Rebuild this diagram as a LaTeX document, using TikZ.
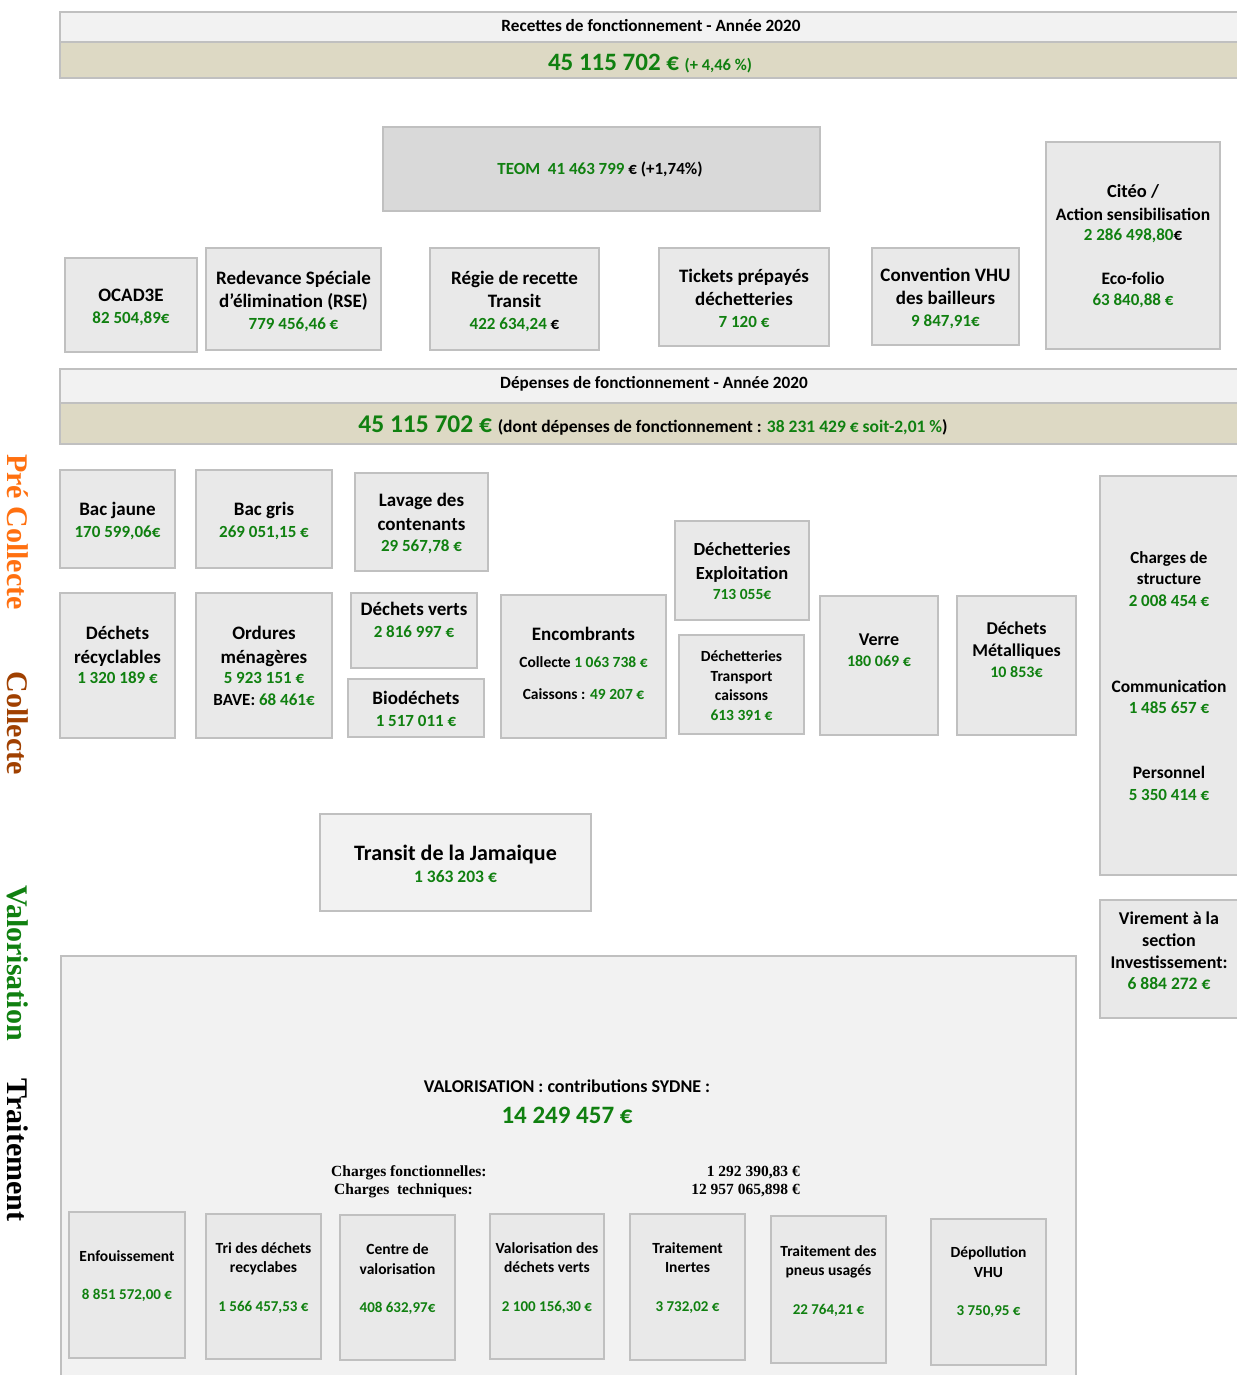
\documentclass[tikz,border=0pt]{standalone}
\usepackage{fontspec}
\setmainfont{Carlito}
\newfontfamily\tms{Liberation Serif}
\usetikzlibrary{fit}
\definecolor{grn}{RGB}{16,128,16}
\definecolor{bord}{RGB}{192,192,192}
\definecolor{boxf}{RGB}{233,233,233}
\definecolor{lite}{RGB}{242,242,242}
\definecolor{tanf}{RGB}{221,217,196}
\definecolor{teomf}{RGB}{217,217,217}
\definecolor{orng}{RGB}{255,112,16}
\definecolor{brwn}{RGB}{160,64,0}
\newcommand\fs[1]{\fontsize{#1}{#1}\selectfont}
\newcommand\T[4][sz=19]{\node[#1] (#2) at #3 {#4};}
\newcommand\B[6][box]{\node[#1, fit={(#3,#4) (#5,#6)}] (#2) {};}
\tikzset{
  box/.style={draw=bord, line width=2pt, fill=boxf, inner sep=0pt},
  litebox/.style={box, fill=lite},
  teombox/.style={box, fill=teomf},
  tanbox/.style={box, fill=tanf},
  sz/.style={anchor=base, inner sep=0pt, font=\bfseries\fs{#1}, yshift=-0.33*#1*1pt},
  gn/.style={sz=#1, text=grn},
  vlab/.style={rotate=-90, font=\tms\bfseries\fs{30}, inner sep=0pt, anchor=center},
  chw/.style={font=\tms\bfseries\fs{15.5}, anchor=base west, inner sep=0pt, yshift=-5pt},
  che/.style={font=\tms\bfseries\fs{15.5}, anchor=base east, inner sep=0pt, yshift=-5pt},
}
\begin{document}
\begin{tikzpicture}[x=1pt,y=-1pt]
\useasboundingbox (0,0) rectangle (1236,1375);
% ---------- Recettes ----------
\B[litebox]{rh1}{60}{12}{1242}{42}
\B[tanbox]{rh2}{60}{42}{1242}{78}
\T[sz=17.2]{rhT}{(651,26)}{Recettes de fonctionnement - Année 2020}
\T[gn=25]{rhV}{(650,62)}{45 115 702 € {\fs{16.5}(+ 4,46 \%)}}
\B[teombox]{teom}{383}{127}{820}{211}
\T[sz=17]{teomT}{(600,169)}{\textcolor{grn}{TEOM\ \ 41 463 799} € (+1,74\%)}
% OCAD3E
\B{ocad}{65}{258}{197}{352}
\T{ocad1}{(131,295)}{OCAD3E}
\T[gn=17]{ocad2}{(131,318)}{82 504,89€}
% RSE
\B{rse}{206}{248}{381}{350}
\T{rse1}{(293.5,278)}{Redevance Spéciale}
\T{rse2}{(293.5,301)}{d{\char"27}élimination (RSE)}
\T[gn=17]{rse3}{(293.5,324)}{779 456,46 €}
% Regie
\B{regie}{430}{248}{599}{350}
\T{regie1}{(514.5,278)}{Régie de recette}
\T{regie2}{(514.5,301)}{Transit}
\T[gn=17]{regie3}{(514.5,324)}{422 634,24 \textcolor{black}{€}}
% Tickets
\B{tick}{659}{248}{829}{346}
\T{tick1}{(744,276)}{Tickets prépayés}
\T{tick2}{(744,299)}{déchetteries}
\T[gn=17]{tick3}{(744,322)}{7 120 €}
% Convention VHU
\B{conv}{872}{248}{1019}{345}
\T{conv1}{(945.5,275)}{Convention VHU}
\T{conv2}{(945.5,298)}{des bailleurs}
\T[gn=17]{conv3}{(945.5,321)}{9 847,91€}
% Citeo
\B{citeo}{1046}{142}{1220}{349}
\T[sz=18.5]{citeo1}{(1133,191)}{Citéo /}
\T[sz=17.5]{citeo2}{(1133,215)}{Action sensibilisation}
\T[gn=17]{citeo3}{(1133,235)}{2 286 498,80\textcolor{black}{€}}
\T[sz=17.5]{citeo4}{(1133,279)}{Eco-folio}
\T[gn=17]{citeo5}{(1133,300)}{63 840,88 €}
% ---------- Depenses ----------
\B[litebox]{dh1}{60}{369}{1242}{403}
\B[tanbox]{dh2}{60}{403}{1242}{444}
\T[sz=17.2]{dhT}{(654,383)}{Dépenses de fonctionnement - Année 2020}
\T[gn=25.5]{dhV}{(653,424)}{45 115 702 € {\fs{17.5}\color{black}(dont dépenses de fonctionnement : \textcolor{grn}{38 231 429 € soit-2,01 \%})}}
% vertical labels
\node[vlab, text=orng] (vpre) at (18,532) {Pré Collecte};
\node[vlab, text=brwn] (vcol) at (18,723) {Collecte};
\node[vlab, text=grn] (vval) at (18,963) {Valorisation};
\node[vlab, text=black] (vtra) at (18,1150) {Traitement};
% Bac jaune
\B{bj}{60}{470}{175}{568}
\T{bj1}{(117.5,509)}{Bac jaune}
\T[gn=17]{bj2}{(117.5,532)}{170 599,06€}
% Bac gris
\B{bg}{196}{470}{332}{568}
\T{bg1}{(264,509)}{Bac gris}
\T[gn=17]{bg2}{(264,532)}{269 051,15 €}
% Lavage
\B{lav}{355}{473}{488}{571}
\T{lav1}{(421.5,500)}{Lavage des}
\T{lav2}{(421.5,524)}{contenants}
\T[gn=17]{lav3}{(421.5,546)}{29 567,78 €}
% Dechets recyclables
\B{drec}{60}{593}{175}{738}
\T{drec1}{(117.5,633)}{Déchets}
\T{drec2}{(117.5,657)}{récyclables}
\T[gn=17]{drec3}{(117.5,678)}{1 320 189 €}
% Ordures menageres
\B{om}{196}{593}{332}{738}
\T{om1}{(264,633)}{Ordures}
\T{om2}{(264,657)}{ménagères}
\T[gn=17]{om3}{(264,678)}{5 923 151 €}
\T[sz=17]{om4}{(264,700)}{BAVE: \textcolor{grn}{68 461€}}
% Dechets verts
\B{dv}{351}{593}{477}{668}
\T{dv1}{(414,609)}{Déchets verts}
\T[gn=17]{dv2}{(414,632)}{2 816 997 €}
% Biodechets
\B{bio}{348}{679}{484}{737}
\T{bio1}{(416,698)}{Biodéchets}
\T[gn=17]{bio2}{(416,721)}{1 517 011 €}
% Encombrants
\B{enc}{501}{595}{666}{738}
\T{enc1}{(583.5,634)}{Encombrants}
\T[sz=15.5]{enc2}{(583.5,662)}{Collecte \textcolor{grn}{1 063 738 €}}
\T[sz=15.5]{enc3}{(583.5,694)}{Caissons : \textcolor{grn}{49 207 €}}
% Dechetteries exploitation
\B{dex}{675}{521}{809}{620}
\T[sz=18.5]{dex1}{(742,549)}{Déchetteries}
\T[sz=18.5]{dex2}{(742,573)}{Exploitation}
\T[gn=15.5]{dex3}{(742,594)}{713 055€}
% Dechetteries transport
\B{dtr}{679}{635}{804}{734}
\T[sz=15.5]{dtr1}{(741.5,656)}{Déchetteries}
\T[sz=15.5]{dtr2}{(741.5,676)}{Transport}
\T[sz=15.5]{dtr3}{(741.5,695)}{caissons}
\T[gn=15.5]{dtr4}{(741.5,715)}{613 391 €}
% Verre
\B{verre}{820}{596}{938}{735}
\T[sz=18]{verre1}{(879,640)}{Verre}
\T[gn=16]{verre2}{(879,661)}{180 069 €}
% Metalliques
\B{met}{957}{596}{1076}{735}
\T[sz=18]{met1}{(1016.5,629)}{Déchets}
\T[sz=18]{met2}{(1016.5,651)}{Métalliques}
\T[gn=16]{met3}{(1016.5,672)}{10 853€}
% Charges de structure column
\B{chs}{1100}{476}{1242}{875}
\T[sz=17]{chs1}{(1169,558)}{Charges de}
\T[sz=17]{chs2}{(1169,579)}{structure}
\T[gn=17]{chs3}{(1169,601)}{2 008 454 €}
\T[sz=17.5]{chs4}{(1169,687)}{Communication}
\T[gn=17]{chs5}{(1169,708)}{1 485 657 €}
\T[sz=17.5]{chs6}{(1169,773)}{Personnel}
\T[gn=17]{chs7}{(1169,795)}{5 350 414 €}
% Virement
\B{vir}{1100}{900}{1242}{1018}
\T[sz=18]{vir1}{(1169,919)}{Virement à la}
\T[sz=18]{vir2}{(1169,941)}{section}
\T[sz=18]{vir3}{(1169,963)}{Investissement:}
\T[gn=17.5]{vir4}{(1169,984)}{6 884 272 €}
% Transit de la Jamaique
\B[litebox]{tj}{320}{814}{591}{911}
\T[sz=22]{tj1}{(455.5,853)}{Transit de la Jamaique}
\T[gn=17.5]{tj2}{(455.5,877)}{1 363 203 €}
% ---------- Valorisation ----------
\B[litebox]{val}{61}{956}{1076}{1385}
\T[sz=18]{val1}{(567,1087)}{VALORISATION : contributions SYDNE :}
\T[gn=25]{val2}{(567,1115)}{14 249 457 €}
\node[chw] (chf) at (331,1171) {Charges fonctionnelles:};
\node[chw] (cht) at (334,1189) {Charges\ \ techniques:};
\node[che] (chfv) at (800,1171) {1 292 390,83 €};
\node[che] (chtv) at (800,1189) {12 957 065,898 €};
% bottom boxes
\B{enf}{69}{1212}{185}{1358}
\T[sz=15.5]{enf1}{(127,1256)}{Enfouissement}
\T[gn=15]{enf2}{(127,1295)}{8 851 572,00 €}
\B{tri}{206}{1214}{321}{1359}
\T[sz=15.5]{tri1}{(263.5,1248)}{Tri des déchets}
\T[sz=15.5]{tri2}{(263.5,1267)}{recyclabes}
\T[gn=15]{tri3}{(263.5,1307)}{1 566 457,53 €}
\B{cdv}{340}{1215}{455}{1360}
\T[sz=15.5]{cdv1}{(397.5,1249)}{Centre de}
\T[sz=15.5]{cdv2}{(397.5,1269)}{valorisation}
\T[gn=15]{cdv3}{(397.5,1308)}{408 632,97€}
\B{vdv}{490}{1214}{604}{1359}
\T[sz=15.5]{vdv1}{(547,1248)}{Valorisation des}
\T[sz=15.5]{vdv2}{(547,1267)}{déchets verts}
\T[gn=15]{vdv3}{(547,1307)}{2 100 156,30 €}
\B{tin}{630}{1214}{745}{1360}
\T[sz=15.5]{tin1}{(687.5,1248)}{Traitement}
\T[sz=15.5]{tin2}{(687.5,1267)}{Inertes}
\T[gn=15]{tin3}{(687.5,1307)}{3 732,02 €}
\B{tpn}{771}{1216}{886}{1363}
\T[sz=15.5]{tpn1}{(828.5,1251)}{Traitement des}
\T[sz=15.5]{tpn2}{(828.5,1270)}{pneus usagés}
\T[gn=15]{tpn3}{(828.5,1310)}{22 764,21 €}
\B{dep}{931}{1219}{1046}{1365}
\T[sz=15.5]{dep1}{(988.5,1252)}{Dépollution}
\T[sz=15.5]{dep2}{(988.5,1272)}{VHU}
\T[gn=15]{dep3}{(988.5,1311)}{3 750,95 €}
\end{tikzpicture}
\end{document}
